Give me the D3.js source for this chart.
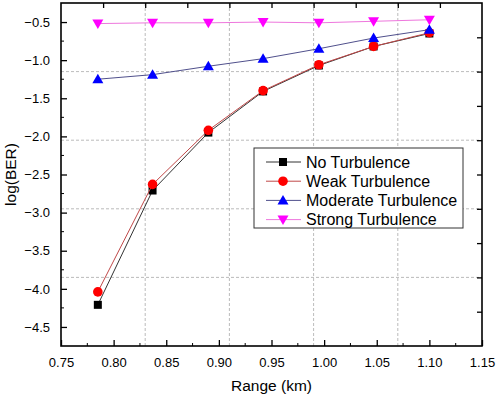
<!DOCTYPE html>
<html lang="en">
<head>
<meta charset="UTF-8">
<title>log(BER) vs Range</title>
<style>
  body, html { margin: 0; padding: 0; background: #fff; }
  svg { font-family: "Liberation Sans", Arial, sans-serif; }
</style>
</head>
<body>
<svg id="svg" width="498" height="398"></svg>
<script src="https://d3js.org/d3.v7.min.js"></script>
<script>
// data
const range = [0.785, 0.837, 0.890, 0.942, 0.995, 1.047, 1.100]
const noTurb = [-4.21, -2.71, -1.95, -1.41, -1.07, -0.82, -0.65]
const weakTurb = [-4.04, -2.63, -1.92, -1.40, -1.06, -0.82, -0.64]
const moderateTurb = [-1.25, -1.19, -1.08, -0.98, -0.85, -0.71, -0.60]
const strongTurb = [-0.52, -0.51, -0.51, -0.50, -0.51, -0.49, -0.47]

const xTicks = [0.75, 0.80, 0.85, 0.90, 0.95, 1.00, 1.05, 1.10, 1.15]
const yTicks = [-0.5, -1.0, -1.5, -2.0, -2.5, -3.0, -3.5, -4.0, -4.5]
// odd grid positions (these follow the top / right axis ticks)
const xGrid = [0.83, 0.91, 0.99, 1.07]
const yGrid = [-1.15, -2.05, -2.95, -3.85]
const topTicks = [0.79, 0.83, 0.87, 0.91, 0.95, 0.99, 1.03, 1.07, 1.11]
const rightTicks = [-0.70, -1.15, -1.60, -2.05, -2.50, -2.95, -3.40, -3.85, -4.30]

const series = [
  { name: 'No Turbulence', values: noTurb, line: '#333333', fill: '#000000', shape: 'square' },
  { name: 'Weak Turbulence', values: weakTurb, line: '#c04848', fill: '#ff0000', shape: 'circle' },
  { name: 'Moderate Turbulence', values: moderateTurb, line: '#50508c', fill: '#0000ff', shape: 'up' },
  { name: 'Strong Turbulence', values: strongTurb, line: '#ee77dd', fill: '#ff00ff', shape: 'down' }
]

const m = { left: 61, right: 482, top: 3, bottom: 346 }
const svg = d3.select('#svg')

const x = d3.scaleLinear().domain([0.75, 1.15]).range([m.left, m.right])
const y = d3.scaleLinear().domain([-4.75, -0.25]).range([m.bottom, m.top])

// grid
svg.append('g').selectAll('line').data(xGrid).join('line')
  .attr('x1', d => x(d)).attr('x2', d => x(d))
  .attr('y1', m.top).attr('y2', m.bottom)
  .attr('stroke', '#aaa').attr('stroke-width', 0.8).attr('stroke-dasharray', '3,2')
svg.append('g').selectAll('line').data(yGrid).join('line')
  .attr('y1', d => y(d)).attr('y2', d => y(d))
  .attr('x1', m.left).attr('x2', m.right)
  .attr('stroke', '#aaa').attr('stroke-width', 0.8).attr('stroke-dasharray', '3,2')

// axes (ticks pointing inward)
const xMinor = d3.range(0.775, 1.15, 0.05)
const yMinor = d3.range(-0.75, -4.75, -0.5)

const bottomAxis = svg.append('g').attr('transform', `translate(0,${m.bottom})`)
  .call(d3.axisBottom(x).tickValues(xTicks).tickFormat(d3.format('.2f')).tickSizeInner(-6).tickSizeOuter(0).tickPadding(12))
bottomAxis.append('g').selectAll('line').data(xMinor).join('line')
  .attr('x1', d => x(d)).attr('x2', d => x(d)).attr('y1', 0).attr('y2', -3).attr('stroke', '#000')

const leftAxis = svg.append('g').attr('transform', `translate(${m.left},0)`)
  .call(d3.axisLeft(y).tickValues(yTicks).tickFormat(d3.format('.1f')).tickSizeInner(-6).tickSizeOuter(0).tickPadding(11))
leftAxis.append('g').selectAll('line').data(yMinor).join('line')
  .attr('y1', d => y(d)).attr('y2', d => y(d)).attr('x1', 0).attr('x2', 3).attr('stroke', '#000')

svg.append('g').attr('transform', `translate(0,${m.top})`)
  .call(d3.axisTop(x).tickValues(topTicks).tickFormat('').tickSizeInner(-5).tickSizeOuter(0))
svg.append('g').attr('transform', `translate(${m.right},0)`)
  .call(d3.axisRight(y).tickValues(rightTicks).tickFormat('').tickSizeInner(-5).tickSizeOuter(0))

svg.selectAll('.domain').remove()
svg.selectAll('.tick line').attr('stroke-width', 1.3)
svg.selectAll('.tick text').attr('font-size', 13).attr('fill', '#000')

svg.append('rect')
  .attr('x', m.left).attr('y', m.top).attr('width', m.right - m.left).attr('height', m.bottom - m.top)
  .attr('fill', 'none').attr('stroke', '#000').attr('stroke-width', 1.6)

// axis titles
svg.append('text').attr('x', (m.left + m.right) / 2).attr('y', 391)
  .attr('text-anchor', 'middle').attr('font-size', 15.5).text('Range (km)')
svg.append('text').attr('transform', `translate(16,${(m.top + m.bottom) / 2}) rotate(-90)`)
  .attr('text-anchor', 'middle').attr('font-size', 15.5).text('log(BER)')

// marker drawing
function marker(g, shape, fill) {
  if (shape === 'square') {
    g.append('rect').attr('x', -4).attr('y', -4).attr('width', 8).attr('height', 8).attr('fill', fill)
  } else if (shape === 'circle') {
    g.append('circle').attr('r', 4.8).attr('fill', fill)
  } else if (shape === 'up') {
    g.append('path').attr('d', 'M0,-5.5L5.5,4L-5.5,4Z').attr('fill', fill)
  } else {
    g.append('path').attr('d', 'M0,5.5L5.5,-4L-5.5,-4Z').attr('fill', fill)
  }
}

const linegen = d3.line().x(d => x(d[0])).y(d => y(d[1]))

series.forEach(s => {
  const pts = range.map((r, i) => [r, s.values[i]])
  svg.append('path').attr('d', linegen(pts))
    .attr('fill', 'none').attr('stroke', s.line).attr('stroke-width', 1)
  pts.forEach(p => {
    const g = svg.append('g').attr('transform', `translate(${x(p[0])},${y(p[1])})`)
    marker(g, s.shape, s.fill)
  })
})

// legend
const legend = svg.append('g')
legend.append('rect').attr('x', 254).attr('y', 148).attr('width', 209).attr('height', 80)
  .attr('fill', '#fff').attr('stroke', '#333').attr('stroke-width', 1)
series.forEach((s, i) => {
  const ly = 162 + i * 19.2
  legend.append('line').attr('x1', 266).attr('x2', 301).attr('y1', ly).attr('y2', ly)
    .attr('stroke', s.line).attr('stroke-width', 1)
  const g = legend.append('g').attr('transform', `translate(283,${ly})`)
  marker(g, s.shape, s.fill)
  legend.append('text').attr('x', 306).attr('y', ly + 5.8).attr('font-size', 16).text(s.name)
})
</script>
</body>
</html>
